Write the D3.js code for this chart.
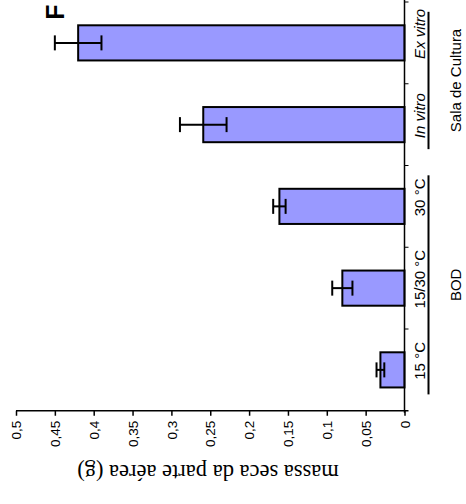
<!DOCTYPE html>
<html>
<head>
<meta charset="utf-8">
<script src="https://cdn.jsdelivr.net/npm/d3@7"></script>
<style>
  html, body { margin: 0; padding: 0; background: #fff; }
  svg { display: block; }
  text { font-family: "Liberation Sans", Arial, sans-serif; fill: #000; }
</style>
</head>
<body>
<svg id="chart" width="466" height="504"></svg>
<script>
// Dry mass of the aerial part per growing condition (bars drawn horizontally, value axis at the bottom)
const categories = ["15 °C", "15/30 °C", "30 °C", "In vitro", "Ex vitro"];
const italicCategories = ["In vitro", "Ex vitro"];
const means  = [0.031, 0.080, 0.161, 0.259, 0.420];
const errors = [0.005, 0.013, 0.008, 0.030, 0.030];
const tickValues = [0, 0.05, 0.1, 0.15, 0.2, 0.25, 0.3, 0.35, 0.4, 0.45, 0.5];
const tickLabels = ["0", "0,05", "0,1", "0,15", "0,2", "0,25", "0,3", "0,35", "0,4", "0,45", "0,5"];
const groupNames = ["BOD", "Sala de Cultura"];
const groupMembers = [["15 °C", "15/30 °C", "30 °C"], ["In vitro", "Ex vitro"]];
const axisTitle = "massa seca da parte aérea (g)";
const panelLetter = "F";

const svg = d3.select("#chart");

const x = d3.scaleLinear().domain([0, 0.5]).range([404.5, 16]);
const y = d3.scaleBand().domain(categories).range([410.75, 2]).paddingInner(0).paddingOuter(0);
const step = y.step();
const barH = step * 0.43;
const center = c => y(c) + y.bandwidth() / 2;

// bars
svg.append("g").selectAll("rect")
  .data(categories)
  .join("rect")
  .attr("x", (c, i) => x(means[i]))
  .attr("width", (c, i) => x(0) - x(means[i]))
  .attr("y", c => center(c) - barH / 2)
  .attr("height", barH)
  .attr("fill", "#9999ff")
  .attr("stroke", "#000")
  .attr("stroke-width", 2);

// error bars
const eg = svg.append("g").attr("stroke", "#000").attr("stroke-width", 2);
categories.forEach((c, i) => {
  const cy = center(c);
  const x1 = x(means[i] + errors[i]);
  const x2 = x(means[i] - errors[i]);
  eg.append("line").attr("x1", x1).attr("x2", x2).attr("y1", cy).attr("y2", cy);
  eg.append("line").attr("x1", x1).attr("x2", x1).attr("y1", cy - 7.5).attr("y2", cy + 7.5);
  eg.append("line").attr("x1", x2).attr("x2", x2).attr("y1", cy - 7.5).attr("y2", cy + 7.5);
});

// value axis
const xAxis = d3.axisBottom(x)
  .tickValues(tickValues)
  .tickFormat((d, i) => tickLabels[i])
  .tickSizeInner(5)
  .tickSizeOuter(0);
const xg = svg.append("g").attr("transform", `translate(0,${y.range()[0]})`).call(xAxis);
xg.select(".domain").remove();
xg.selectAll(".tick line").attr("stroke", "#000").attr("stroke-width", 1.5);
xg.selectAll(".tick text")
  .attr("transform", "rotate(-90)")
  .attr("x", -10)
  .attr("y", 0)
  .attr("dy", "0.35em")
  .attr("text-anchor", "end")
  .style("font-size", "13.5px")
  .style("font-family", "'Liberation Sans', Arial, sans-serif");
svg.append("line")
  .attr("x1", x(0.5)).attr("x2", x(0) + 4)
  .attr("y1", y.range()[0]).attr("y2", y.range()[0])
  .attr("stroke", "#000").attr("stroke-width", 1.5);

// category axis with ticks on band boundaries
svg.append("line")
  .attr("x1", x(0)).attr("x2", x(0))
  .attr("y1", 0).attr("y2", y.range()[0] + 2)
  .attr("stroke", "#000").attr("stroke-width", 1.5);
const boundaries = categories.map(c => y(c));
svg.append("g").selectAll("line")
  .data(boundaries)
  .join("line")
  .attr("x1", x(0)).attr("x2", x(0) + 4)
  .attr("y1", d => d).attr("y2", d => d)
  .attr("stroke", "#000").attr("stroke-width", 1);

// category labels
svg.append("g").selectAll("text")
  .data(categories)
  .join("text")
  .attr("transform", c => `translate(420,${center(c) - 9}) rotate(-90)`)
  .attr("dy", "0.35em")
  .attr("text-anchor", "middle")
  .style("font-size", "15px")
  .style("font-style", c => italicCategories.includes(c) ? "italic" : "normal")
  .text(c => c);

// group brackets and names
groupNames.forEach((g, gi) => {
  const members = groupMembers[gi];
  const cs = members.map(center);
  const top = d3.min(cs) - 0.38 * step;
  const bottom = d3.max(cs) + 0.3 * step;
  svg.append("line")
    .attr("x1", 428.5).attr("x2", 428.5)
    .attr("y1", Math.max(0, top)).attr("y2", bottom)
    .attr("stroke", "#000").attr("stroke-width", 2);
  svg.append("text")
    .attr("transform", `translate(456,${(Math.max(0, top) + bottom) / 2}) rotate(-90)`)
    .attr("dy", "0.35em")
    .attr("text-anchor", "middle")
    .style("font-size", "15px")
    .text(g);
});

// value axis title, set upside down
svg.append("text")
  .attr("transform", "translate(208,473) rotate(180)")
  .attr("dy", "0.35em")
  .attr("text-anchor", "middle")
  .style("font-family", "'Liberation Serif', 'Times New Roman', serif")
  .style("font-size", "22.5px")
  .text(axisTitle);

// panel letter
svg.append("text")
  .attr("transform", "translate(55,12) rotate(-90)")
  .attr("dy", "0.35em")
  .attr("text-anchor", "middle")
  .style("font-size", "25px")
  .style("font-weight", "bold")
  .text(panelLetter);
</script>
</body>
</html>
